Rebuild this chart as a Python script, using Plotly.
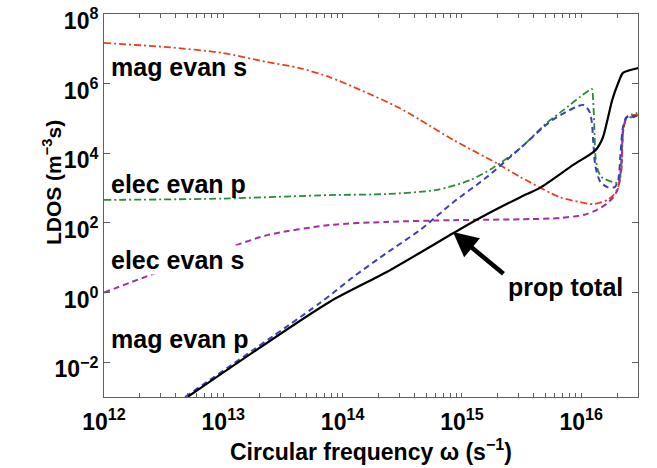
import plotly.graph_objects as go

# ---- data (log10 of circular frequency, log10 of LDOS) ----
mag_evan_s_logw = [12.0, 12.53, 13.0, 13.37, 13.64, 13.89, 14.15, 14.46, 14.65, 14.93, 15.29, 15.49,
                   15.82, 15.99, 16.10, 16.22, 16.27, 16.31, 16.34, 16.35, 16.38, 16.43, 16.48]
mag_evan_s_logL = [7.17, 7.05, 6.88, 6.62, 6.45, 6.19, 5.82, 5.33, 4.96, 4.38, 3.72, 3.32,
                   2.74, 2.60, 2.54, 2.66, 2.80, 3.03, 3.61, 4.58, 5.01, 5.10, 5.10]

elec_evan_p_logw = [12.0, 13.0, 13.89, 14.37, 14.79, 15.07, 15.26, 15.49, 15.71, 15.85, 15.99, 16.07,
                    16.09, 16.10, 16.11, 16.12, 16.14, 16.17, 16.26, 16.31, 16.33, 16.35, 16.38, 16.47]
elec_evan_p_logL = [2.66, 2.70, 2.80, 2.83, 2.95, 3.23, 3.58, 4.15, 4.87, 5.24, 5.62, 5.82,
                    5.85, 5.53, 4.75, 3.89, 3.52, 3.32, 3.18, 3.15, 3.43, 4.58, 5.04, 5.16]

elec_evan_s_logw = [12.0, 12.41, 12.95, 13.37, 13.89, 14.37, 14.93, 15.57, 15.82, 16.02, 16.13,
                    16.22, 16.27, 16.31, 16.34, 16.35, 16.38, 16.43, 16.48]
elec_evan_s_logL = [0.0, 0.53, 1.17, 1.65, 1.94, 2.03, 2.08, 2.11, 2.14, 2.23, 2.37,
                    2.57, 2.74, 3.0, 3.81, 4.67, 5.01, 5.04, 5.04]

mag_evan_p_logw = [12.68, 13.81, 14.09, 14.37, 14.65, 14.93, 15.21, 15.49, 15.76, 16.02, 16.07,
                   16.09, 16.10, 16.12, 16.16, 16.22, 16.28, 16.31, 16.33, 16.35, 16.38, 16.47]
mag_evan_p_logL = [-3.0, -0.30, 0.45, 1.14, 1.80, 2.60, 3.32, 4.15, 4.96, 5.39, 5.19,
                   4.87, 4.38, 3.61, 3.18, 3.03, 3.03, 3.23, 4.01, 4.75, 5.04, 5.07]

prop_total_logw = [12.70, 13.89, 14.37, 14.93, 15.15, 15.49, 15.65, 15.93, 16.12, 16.18, 16.22,
                   16.26, 16.31, 16.35, 16.48]
prop_total_logL = [-3.0, -0.27, 0.59, 1.71, 2.14, 2.74, 3.0, 3.66, 4.09, 4.44, 4.96,
                   5.53, 6.02, 6.31, 6.45]

x_tick_exps = [12, 13, 14, 15, 16]
y_tick_exps = [-2, 0, 2, 4, 6, 8]

labels = ["mag evan s", "elec evan p", "elec evan s", "mag evan p", "prop total"]


def sup(e):
    s = str(e).replace("-", "\u2212")
    return f"10<sup>{s}</sup>"


def pw(vals):
    return [10 ** v for v in vals]


FONT = "Liberation Sans, Arial, Helvetica, sans-serif"
AX = "#606060"

fig = go.Figure()
series = [
    (mag_evan_s_logw, mag_evan_s_logL, "#e8401c", "7px,3px,2px,3px", 1.8),
    (elec_evan_p_logw, elec_evan_p_logL, "#2a8a3a", "7px,3px,2px,3px", 1.8),
    (elec_evan_s_logw, elec_evan_s_logL, "#a0309f", "6px,4px", 2.0),
    (mag_evan_p_logw, mag_evan_p_logL, "#3b3fb8", "6px,4px", 2.0),
    (prop_total_logw, prop_total_logL, "#000000", "solid", 2.2),
]
for (lw, lL, col, dash, wid), name in zip(series, labels):
    fig.add_trace(go.Scatter(x=pw(lw), y=pw(lL), mode="lines", name=name,
                             line=dict(color=col, dash=dash, width=wid, shape="spline", smoothing=0.7),
                             showlegend=False))

# decade ticks carry labels, 2..9 x 10^k ticks are unlabeled
x_tickvals, x_ticktext = [], []
for e in range(12, 17):
    for m in range(1, 10):
        v = m * 10 ** e
        if v > 3e16:
            continue
        x_tickvals.append(v)
        x_ticktext.append(sup(e) if m == 1 else "")

fig.update_layout(
    xaxis=dict(type="log", range=[12, 16.476], automargin=False,
               tickmode="array", tickvals=x_tickvals, ticktext=x_ticktext,
               tickfont=dict(family=FONT, size=23, color="black", weight="bold"),
               ticks="inside", ticklen=4, tickwidth=1, tickcolor=AX, showline=True, linecolor=AX,
               linewidth=1, mirror="ticks", showgrid=False, zeroline=False,
               ticklabeloverflow="allow", ticklabelstandoff=4),
    yaxis=dict(type="log", range=[-3, 8.002], automargin=False,
               tickmode="array", tickvals=pw(y_tick_exps), ticktext=[sup(e) for e in y_tick_exps],
               tickfont=dict(family=FONT, size=23, color="black", weight="bold"),
               ticks="inside", ticklen=6, tickwidth=1, tickcolor=AX, showline=True, linecolor=AX,
               linewidth=1, mirror="ticks", showgrid=False, zeroline=False,
               ticklabeloverflow="allow", ticklabelshift=7))

lab_font = dict(family=FONT, size=25, color="black", weight="bold")
label_pos = [(12.05, 6.48), (12.05, 3.12), (12.05, 0.935), (12.05, -1.33), (15.378, 0.16)]
for name, (lx, ly) in zip(labels, label_pos):
    fig.add_annotation(x=lx, y=ly, xref="x", yref="y", text=name, showarrow=False,
                       xanchor="left", yanchor="middle", font=lab_font,
                       bgcolor="white" if name == "elec evan s" else None, borderpad=0)

# arrow pointing at the prop total curve
fig.add_annotation(x=14.925, y=1.74, xref="x", yref="y", text="", showarrow=True,
                   ax=52, ay=43, arrowhead=2, arrowsize=1.1, arrowwidth=4.5,
                   arrowcolor="black", standoff=0)

fig.add_annotation(xref="paper", yref="paper", x=0.5, y=-0.138, xanchor="center", yanchor="middle",
                   text="Circular frequency \u03c9 (s<sup>\u22121</sup>)", showarrow=False,
                   font=dict(family=FONT, size=23, color="black", weight="bold"))
fig.add_annotation(xref="paper", yref="paper", x=-0.097, y=0.559, xanchor="center", yanchor="middle",
                   text="LDOS (m<sup>\u22123</sup>s)", textangle=-90, showarrow=False,
                   font=dict(family=FONT, size=21, color="black", weight="bold"))

fig.update_layout(width=657, height=468, margin=dict(l=104, r=19, t=14, b=71),
                  plot_bgcolor="white", paper_bgcolor="white")

fig.write_html("out.html")
